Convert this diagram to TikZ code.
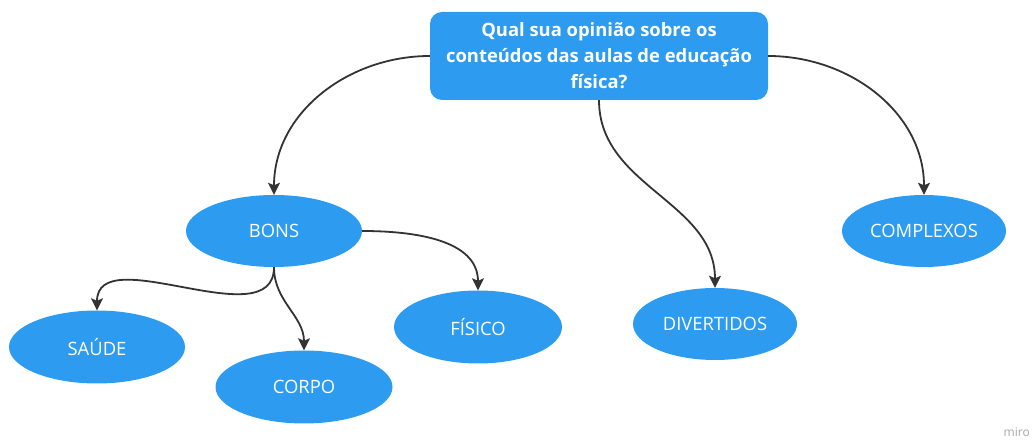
\documentclass[tikz,border=0pt]{standalone}
\usepackage{fontspec}
\setmainfont{Open Sans}
\usetikzlibrary{arrows.meta,shapes.geometric}
\definecolor{micoblue}{HTML}{2D9BF0}
\definecolor{linkgray}{HTML}{333333}
\tikzset{
  topic/.style={rectangle,rounded corners=12pt,fill=micoblue,text=white,
    minimum width=338pt,minimum height=88pt,align=center,inner sep=0pt,
    font=\bfseries\fontsize{18.4}{26}\selectfont},
  idea/.style={ellipse,fill=micoblue,text=white,inner sep=0pt,
    font=\fontsize{18.4}{22}\selectfont},
  link/.style={draw=linkgray,line width=1.8pt,
    -{Stealth[length=12pt,width=12pt,inset=2.5pt]}}
}
\begin{document}
\begin{tikzpicture}[x=1pt,y=1pt]
\useasboundingbox (0,0) rectangle (1032,441);
\node[topic] (q) at (599,385) {Qual sua opinião sobre os\\conteúdos das aulas de educação\\física?};
\node[idea,minimum width=176pt,minimum height=72pt] (bons) at (274,210) {BONS};
\node[idea,minimum width=176pt,minimum height=73pt] (saude) at (97,94) {SAÚDE};
\node[idea,minimum width=177pt,minimum height=73pt] (corpo) at (304,54) {CORPO};
\node[idea,minimum width=168pt,minimum height=73pt] (fisico) at (478,114) {FÍSICO};
\node[idea,minimum width=164pt,minimum height=72pt] (divert) at (715,117) {DIVERTIDOS};
\node[idea,minimum width=164pt,minimum height=72pt] (complex) at (924,210) {COMPLEXOS};
\draw[link] (q.west) to[out=180,in=90] (bons.north);
\draw[link] (q.south) to[out=-90,in=90] (divert.north);
\draw[link] (q.east) to[out=0,in=90] (complex.north);
\draw[link] (bons.east) to[out=0,in=90] (fisico.north);
\draw[link] (bons.south) to[out=-90,in=90] (saude.north);
\draw[link] (bons.south) to[out=-90,in=90] (corpo.north);
\node[anchor=base east,text=black!35,inner sep=0pt,font=\fontsize{12}{12}\selectfont] (mark) at (1030,4) {miro};
\end{tikzpicture}
\end{document}
